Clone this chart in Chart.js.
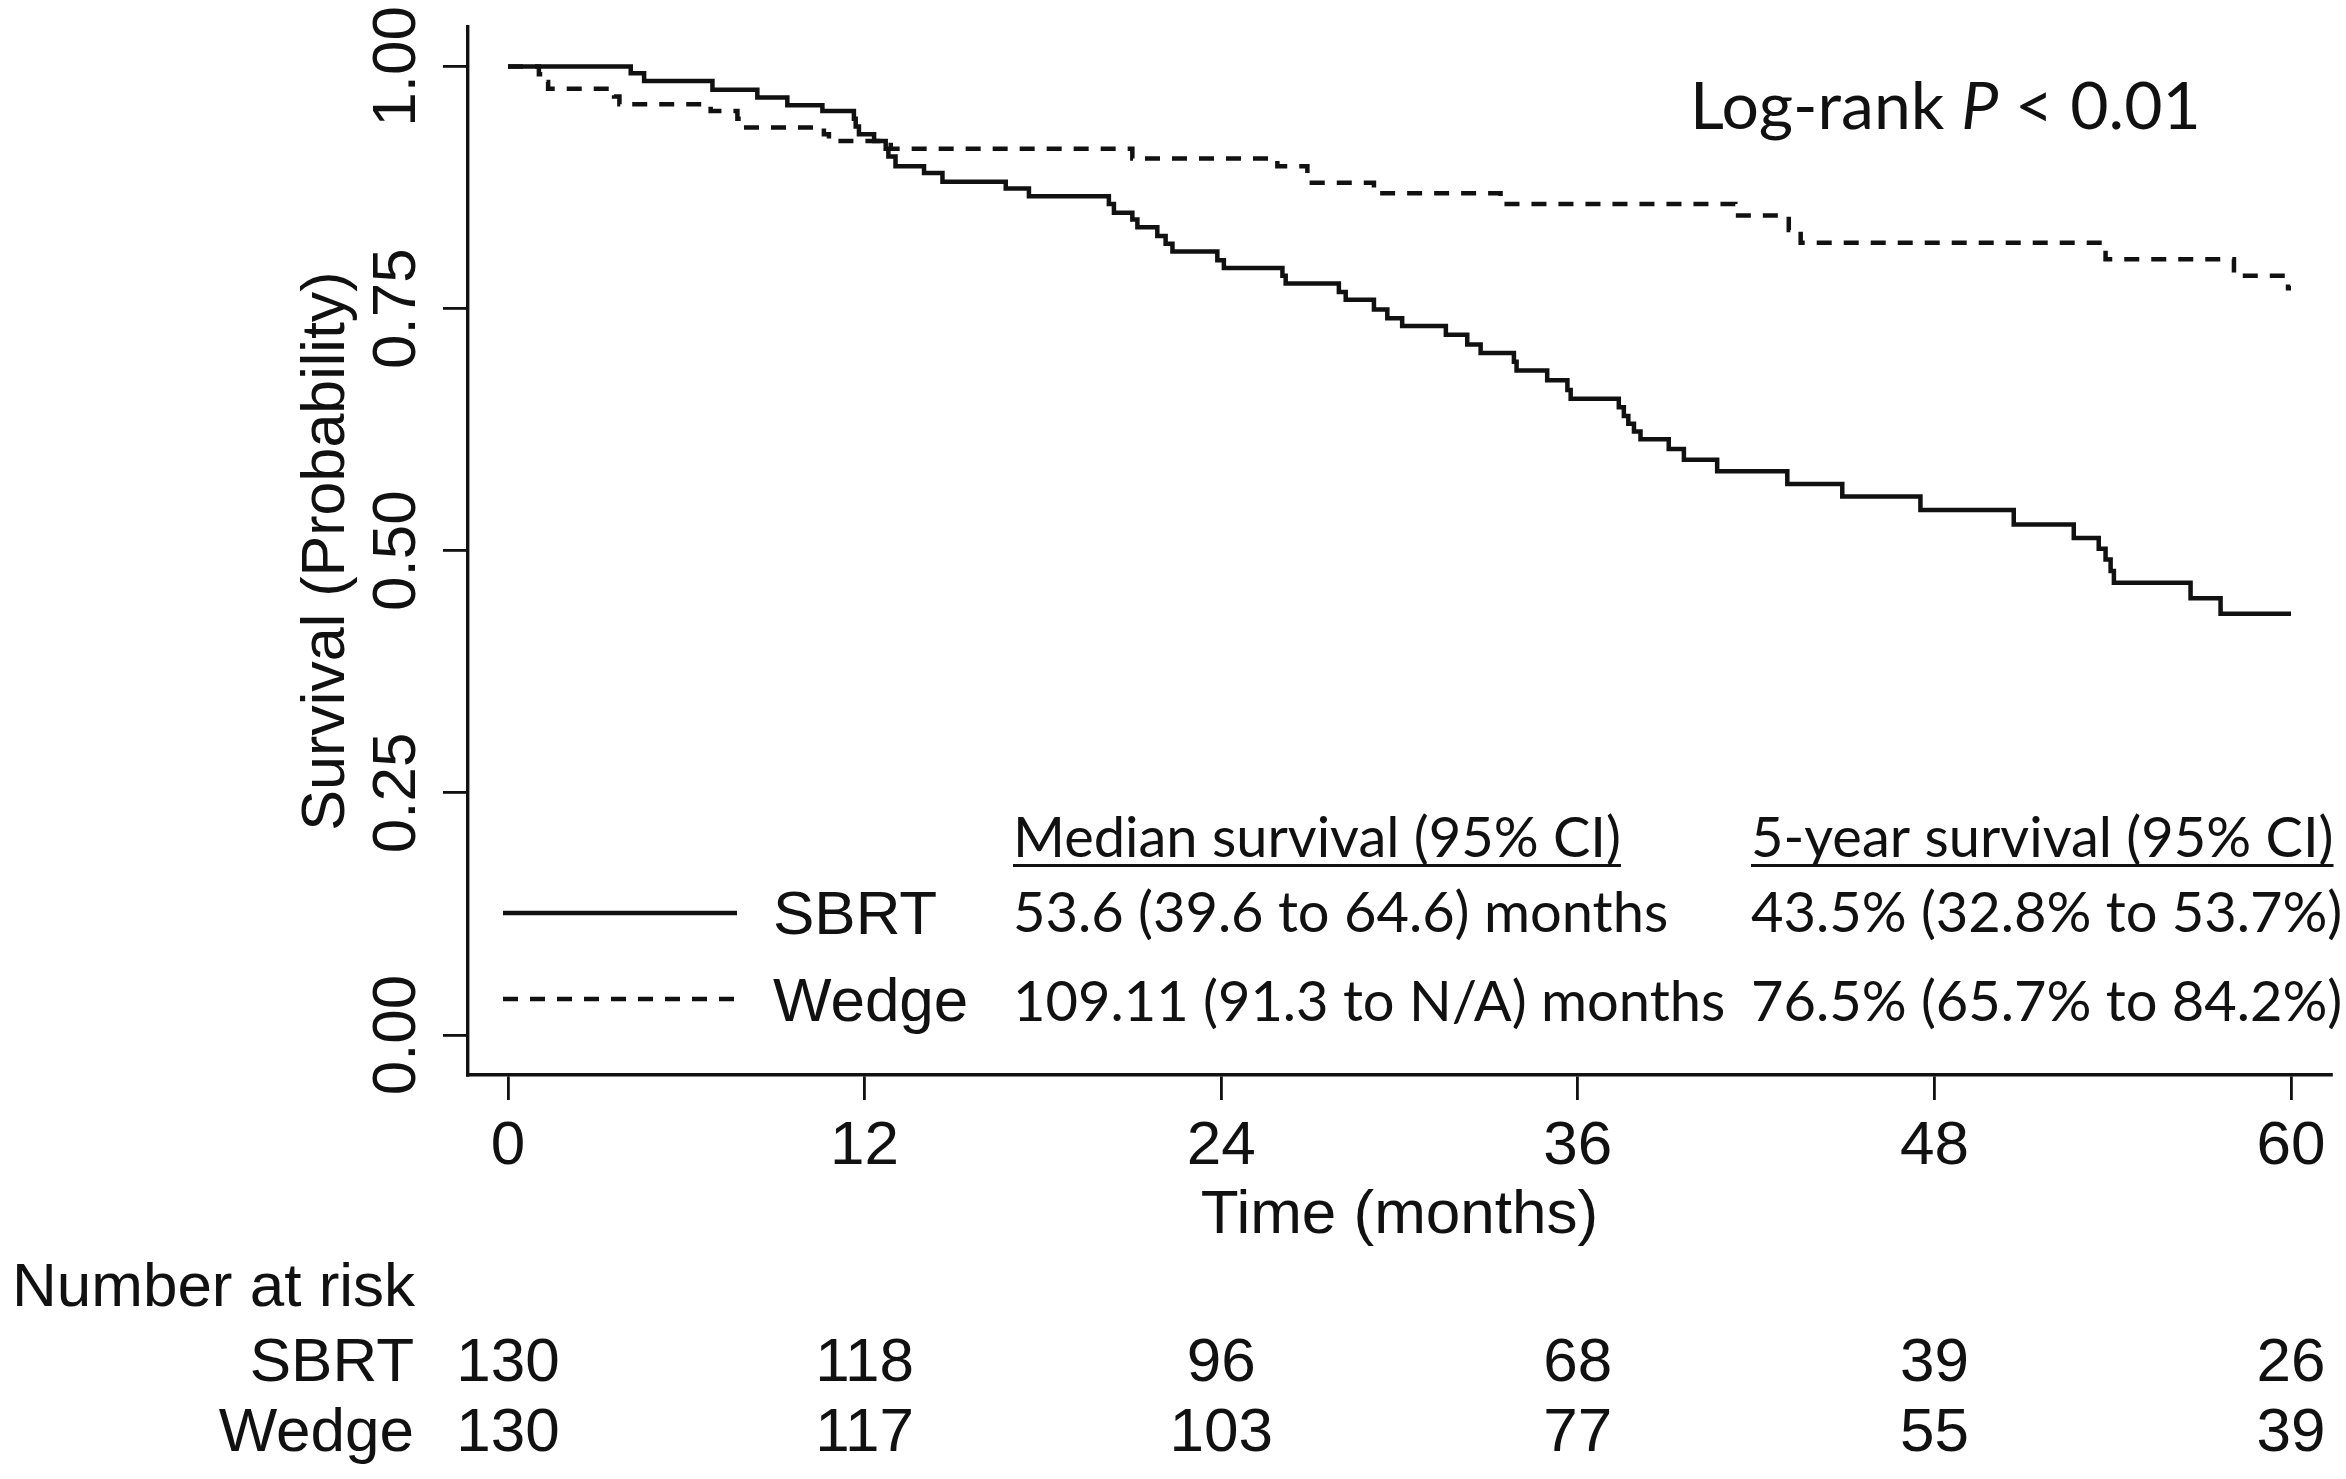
<!DOCTYPE html>
<html><head><meta charset="utf-8">
<script src="https://cdn.jsdelivr.net/npm/chart.js@4/dist/chart.umd.min.js"></script>
<style>html,body{margin:0;padding:0;background:#fff;overflow:hidden}canvas{display:block}</style>
</head><body>
<canvas id="c" width="2346" height="1479"></canvas>
<script>
// ---- data ----
const timeTicks = [0, 12, 24, 36, 48, 60];
const survTicks = [0, 0.25, 0.5, 0.75, 1];
const survTickLabels = ['0.00', '0.25', '0.50', '0.75', '1.00'];
const groups = ['SBRT', 'Wedge'];

const sbrtTime = [0, 4.13, 4.58, 6.88, 8.39, 9.40, 10.58, 11.64, 11.70, 11.81, 12.32, 12.71, 12.80, 13.04, 14.0, 14.62, 16.75, 17.53, 20.22, 20.39, 21.01, 21.18, 21.85, 22.13, 22.36, 23.87, 24.09, 26.06, 26.17, 27.96, 28.19, 29.14, 29.59, 30.09, 31.56, 32.28, 32.73, 33.85, 33.94, 34.97, 35.65, 35.76, 37.38, 37.55, 37.70, 37.89, 38.11, 39.06, 39.57, 40.69, 43.05, 44.90, 47.53, 50.67, 52.69, 53.53, 53.76, 53.93, 54.04, 56.62, 57.63, 60.0];
const sbrtSurv = [1.0, 0.993, 0.985, 0.976, 0.968, 0.960, 0.954, 0.946, 0.938, 0.930, 0.923, 0.915, 0.907, 0.897, 0.890, 0.881, 0.874, 0.866, 0.858, 0.849, 0.842, 0.834, 0.825, 0.817, 0.809, 0.800, 0.792, 0.784, 0.776, 0.767, 0.759, 0.749, 0.740, 0.732, 0.723, 0.713, 0.704, 0.695, 0.686, 0.676, 0.666, 0.657, 0.648, 0.639, 0.631, 0.623, 0.615, 0.605, 0.594, 0.582, 0.569, 0.556, 0.542, 0.527, 0.513, 0.502, 0.491, 0.479, 0.467, 0.451, 0.435, 0.435];

const wedgeTime = [0, 1.04, 1.20, 1.35, 3.57, 3.75, 6.82, 7.72, 7.90, 10.63, 10.80, 12.88, 21.01, 25.89, 26.90, 27.05, 29.14, 33.40, 41.30, 43.10, 43.50, 53.76, 58.08, 59.90, 60.0];
const wedgeSurv = [1.0, 0.992, 0.984, 0.977, 0.969, 0.961, 0.954, 0.946, 0.937, 0.930, 0.923, 0.915, 0.905, 0.897, 0.888, 0.880, 0.869, 0.858, 0.846, 0.831, 0.818, 0.801, 0.784, 0.771, 0.771];

const sbrtAtRisk = [130, 118, 96, 68, 39, 26];
const wedgeAtRisk = [130, 117, 103, 77, 55, 39];

const headers = ['Median survival (95% CI)', '5-year survival (95% CI)'];
const medianText = ['53.6 (39.6 to 64.6) months', '109.11 (91.3 to N/A) months'];
const fiveYearText = ['43.5% (32.8% to 53.7%)', '76.5% (65.7% to 84.2%)'];
const pValueText = ['Log-rank ', 'P', ' < 0.01'];
const xTitle = 'Time (months)';
const yTitle = 'Survival (Probability)';
const riskTitle = 'Number at risk';

// ---- drawing ----
const INK = '#111';
const SANS = "'Liberation Sans', Arial, sans-serif";
const HUM = "Lato, 'Open Sans', sans-serif";
const toXY = (t, s) => t.map((v, i) => ({x: v, y: s[i]}));

const textPlugin = {
  id: 'kmText',
  afterDraw(chart) {
    const ctx = chart.ctx, xs = chart.scales.x, ys = chart.scales.y, ca = chart.chartArea;
    ctx.save();
    ctx.fillStyle = INK;
    // y tick labels (rotated)
    ctx.font = '62px ' + SANS;
    ctx.textAlign = 'center'; ctx.textBaseline = 'alphabetic';
    survTicks.forEach((v, i) => {
      ctx.save();
      ctx.translate(415, ys.getPixelForValue(v));
      ctx.rotate(-Math.PI / 2);
      ctx.fillText(survTickLabels[i], 0, 0);
      ctx.restore();
    });
    // y title
    ctx.save();
    ctx.translate(344, (ca.top + ca.bottom) / 2);
    ctx.rotate(-Math.PI / 2);
    ctx.font = '61px ' + SANS;
    ctx.fillText(yTitle, 0, 0);
    ctx.restore();
    // x tick labels
    ctx.font = '62px ' + SANS;
    timeTicks.forEach(v => ctx.fillText(String(v), xs.getPixelForValue(v), 1164));
    // x title
    ctx.fillText(xTitle, (ca.left + ca.right) / 2, 1233);
    // number at risk
    ctx.textAlign = 'left';
    ctx.fillText(riskTitle, 12, 1306);
    ctx.textAlign = 'right';
    ctx.fillText(groups[0], 414, 1381);
    ctx.fillText(groups[1], 414, 1451);
    ctx.textAlign = 'center';
    timeTicks.forEach((v, i) => {
      const px = xs.getPixelForValue(v);
      ctx.fillText(String(sbrtAtRisk[i]), px, 1381);
      ctx.fillText(String(wedgeAtRisk[i]), px, 1451);
    });
    // legend labels
    ctx.textAlign = 'left';
    ctx.fillText(groups[0], 773, 934);
    ctx.fillText(groups[1], 773, 1021);
    // legend line samples
    ctx.strokeStyle = INK; ctx.lineWidth = 4.5;
    ctx.beginPath(); ctx.moveTo(503, 913); ctx.lineTo(737, 913); ctx.stroke();
    ctx.setLineDash([15, 12]);
    ctx.beginPath(); ctx.moveTo(503, 999); ctx.lineTo(737, 999); ctx.stroke();
    ctx.setLineDash([]);
    // table headers (underlined)
    ctx.font = '56px ' + HUM;
    const colX = [1013, 1751];
    headers.forEach((h, i) => {
      ctx.fillText(h, colX[i], 857);
      const w = ctx.measureText(h).width;
      ctx.fillRect(colX[i], 864, w, 3);
    });
    ctx.fillText(medianText[0], colX[0], 932);
    ctx.fillText(medianText[1], colX[0], 1021);
    ctx.fillText(fiveYearText[0], colX[1], 932);
    ctx.fillText(fiveYearText[1], colX[1], 1021);
    // log-rank
    ctx.font = '66px ' + HUM;
    let x = 1690;
    ctx.fillText(pValueText[0], x, 129); x += ctx.measureText(pValueText[0]).width;
    ctx.font = 'italic 66px ' + HUM;
    ctx.fillText(pValueText[1], x, 129); x += ctx.measureText(pValueText[1]).width;
    ctx.font = '66px ' + HUM;
    ctx.fillText(pValueText[2], x, 129);
    ctx.restore();
  }
};

const gridOpts = {display: true, drawOnChartArea: false, drawTicks: true, tickLength: 25, color: INK, lineWidth: 2.8};
const borderOpts = {display: true, color: INK, width: 3.4};

new Chart(document.getElementById('c'), {
  type: 'line',
  data: {
    datasets: [
      {label: groups[0], data: toXY(sbrtTime, sbrtSurv), stepped: true, borderColor: INK, borderWidth: 4.5, pointRadius: 0, fill: false},
      {label: groups[1], data: toXY(wedgeTime, wedgeSurv), stepped: true, borderColor: INK, borderWidth: 4.5, borderDash: [15, 12], pointRadius: 0, fill: false}
    ]
  },
  options: {
    responsive: false,
    devicePixelRatio: 1,
    animation: false,
    layout: {padding: {left: 0, top: 27, right: 15, bottom: 0}},
    plugins: {legend: {display: false}, title: {display: false}, tooltip: {enabled: false}},
    scales: {
      x: {
        type: 'linear', min: -1.346, max: 61.346,
        afterBuildTicks: s => { s.ticks = timeTicks.map(v => ({value: v})); },
        afterFit: s => { s.height = 404; },
        ticks: {display: false},
        grid: gridOpts, border: borderOpts
      },
      y: {
        type: 'linear', min: -0.0413, max: 1.0407,
        afterBuildTicks: s => { s.ticks = survTicks.map(v => ({value: v})); },
        afterFit: s => { s.width = 468; },
        ticks: {display: false},
        grid: gridOpts, border: borderOpts
      }
    }
  },
  plugins: [textPlugin]
});
</script>
</body></html>
